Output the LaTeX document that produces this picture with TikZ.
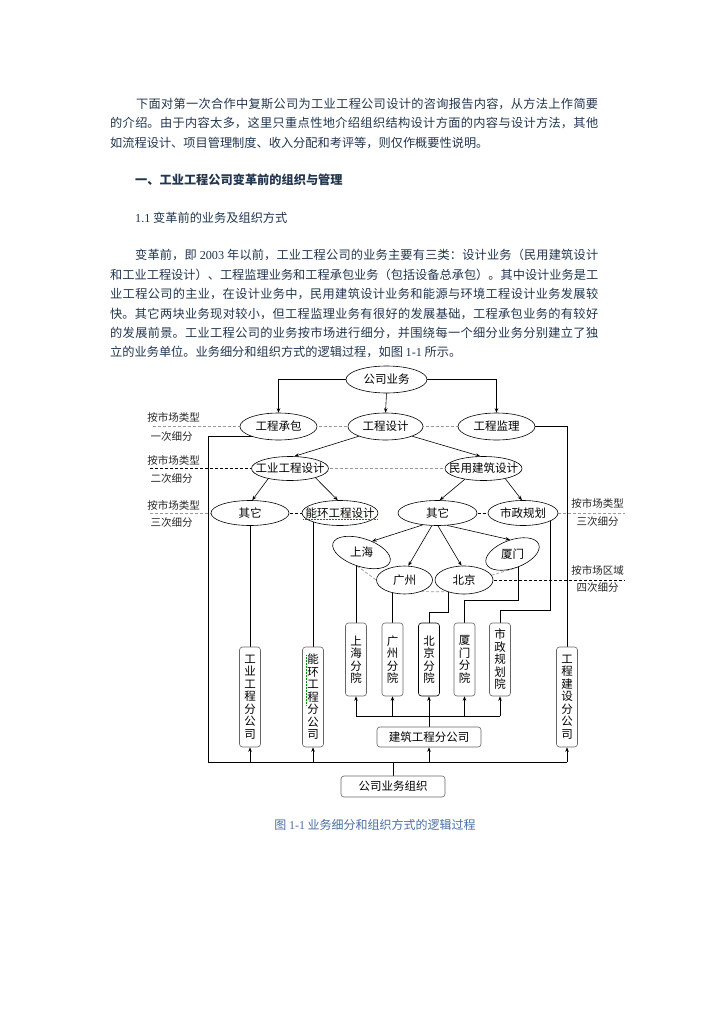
\documentclass[tikz,border=0pt]{standalone}
\usepackage{fontspec}
\usepackage{graphicx}
\setmainfont{Noto Sans CJK SC}
\newfontfamily\lat{Liberation Serif}
\usetikzlibrary{shapes.geometric,arrows.meta}
\XeTeXlinebreaklocale "zh"
\XeTeXlinebreakskip=0pt plus 1pt
\definecolor{bodyc}{HTML}{22364F}
\definecolor{capc}{HTML}{4A6FA5}
\newcommand\zbox[1]{\makebox[0pt]{#1}}
\pgfdeclarelayer{bg}
\pgfdeclarelayer{paper}
\pgfsetlayers{paper,bg,main}
\tikzset{
 ell/.style={ellipse, draw=black, line width=0.6pt, fill=white, inner sep=0pt, font=\fontsize{11.5}{12}\selectfont},
 vbox/.style={rectangle, rounded corners=3pt, draw=black!60, line width=0.6pt, fill=white, inner sep=1pt, minimum width=21pt, align=center, font=\fontsize{11.5}{12.5}\selectfont},
 hbox/.style={rectangle, rounded corners=3pt, draw=black!60, line width=0.6pt, fill=white, minimum width=104pt, minimum height=20pt, inner sep=1pt, font=\fontsize{11.5}{12}\selectfont},
 lbl/.style={font=\fontsize{10.5}{12}\selectfont, text=black!85, inner sep=0pt},
 conn/.style={line width=0.6pt, draw=black},
 thk/.style={line width=0.9pt, draw=black},
 arr/.style={-{Stealth[length=4.5pt,width=3.5pt]}},
 gdash/.style={line width=0.7pt, draw=black!40, dash pattern=on 3pt off 2pt},
 kdash/.style={line width=0.7pt, draw=black, dash pattern=on 3pt off 2pt},
 para/.style={anchor=base west, inner sep=0pt, text=bodyc, font=\fontsize{12.2}{14}\selectfont},
}
\begin{document}
\begin{tikzpicture}[x=1pt,y=-1pt]
\begin{pgfonlayer}{paper}
\fill[white] (0,0) rectangle (724,1024);
\end{pgfonlayer}
\useasboundingbox (0,0) rectangle (724,1024);

% ---- text ----
\node[para] (t1) at (136,108.6) {\parbox[b]{462pt}{\parfillskip=0pt 下面对第一次合作中复斯公司为工业工程公司设计的咨询报告内容，从方法上作简要}};
\node[para] (t2) at (110,127.9) {\parbox[b]{488pt}{\parfillskip=0pt 的介绍。由于内容太多，这里只重点性地介绍组织结构设计方面的内容与设计方法，其他}};
\node[para] (t3) at (110,147.3) {如流程设计、项目管理制度、收入分配和考评等，则仅作概要性说明。};
\node[para, font=\fontsize{12.2}{14}\selectfont\bfseries] (t4) at (135,184.6) {一、工业工程公司变革前的组织与管理};
\node[para] (t5) at (135,222.6) {{\lat 1.1} 变革前的业务及组织方式};
\node[para] (t6) at (135,259.6) {\parbox[b]{463pt}{\parfillskip=0pt 变革前，即 {\lat 2003} 年以前，工业工程公司的业务主要有三类：设计业务（民用建筑设计}};
\node[para] (t7) at (110,279.6) {\parbox[b]{488pt}{\parfillskip=0pt 和工业工程设计）、工程监理业务和工程承包业务（包括设备总承包）。其中设计业务是工}};
\node[para] (t8) at (110,298.8) {\parbox[b]{488pt}{\parfillskip=0pt 业工程公司的主业，在设计业务中，民用建筑设计业务和能源与环境工程设计业务发展较}};
\node[para] (t9) at (110,318.0) {\parbox[b]{488pt}{\parfillskip=0pt 快。其它两块业务现对较小，但工程监理业务有很好的发展基础，工程承包业务的有较好}};
\node[para] (t10) at (110,337.3) {\parbox[b]{488pt}{\parfillskip=0pt 的发展前景。工业工程公司的业务按市场进行细分，并围绕每一个细分业务分别建立了独}};
\node[para] (t11) at (110,356.6) {立的业务单位。业务细分和组织方式的逻辑过程，如图 {\lat 1-1} 所示。};
\node[anchor=base, inner sep=0pt, text=capc, font=\fontsize{12}{14}\selectfont] (cap) at (375,829.5) {图 {\lat 1-1} 业务细分和组织方式的逻辑过程};

% ---- ellipses ----
\node[ell, minimum width=81pt, minimum height=27pt] (gsyw) at (386.5,379.5) {\zbox{公司业务}};
\node[ell, minimum width=77pt, minimum height=27pt] (gccb) at (278.5,426.5) {\zbox{工程承包}};
\node[ell, minimum width=75pt, minimum height=27pt] (gcsj) at (385.5,426.5) {\zbox{工程设计}};
\node[ell, minimum width=77pt, minimum height=27pt] (gcjl) at (496.5,426.5) {\zbox{工程监理}};
\node[ell, minimum width=77pt, minimum height=24pt] (gysj) at (290,468.5) {\zbox{工业工程设计}};
\node[ell, minimum width=77pt, minimum height=24pt] (mysj) at (483.5,468.5) {\zbox{民用建筑设计}};
\node[ell, minimum width=78pt, minimum height=25pt] (qt1) at (250,513) {\zbox{其它}};
\node[ell, minimum width=76pt, minimum height=25pt] (nhsj) at (340,513) {\zbox{能环工程设计}};
\node[ell, minimum width=79pt, minimum height=25pt] (qt2) at (437.5,513) {\zbox{其它}};
\node[ell, minimum width=70pt, minimum height=25pt] (szgh) at (523,513) {\zbox{市政规划}};
\node[ell, rotate=-18, minimum width=60pt, minimum height=28pt] (sh) at (361.5,552.5) {\rotatebox{18}{\zbox{上海}}};
\node[ell, rotate=20, minimum width=56pt, minimum height=28pt] (xm) at (512.5,554) {\rotatebox{-20}{\zbox{厦门}}};
\node[ell, minimum width=56pt, minimum height=28pt] (gz) at (404.5,580) {\zbox{广州}};
\node[ell, minimum width=58pt, minimum height=28pt] (bj) at (464,580) {\zbox{北京}};

% ---- boxes ----
\node[vbox, minimum height=100pt] (gygs) at (250,697) {工\\业\\工\\程\\分\\公\\司};
\node[vbox, minimum height=100pt] (nhgs) at (313,697) {能\\环\\工\\程\\分\\公\\司};
\node[vbox, minimum height=100pt] (jsgs) at (567,697) {工\\程\\建\\设\\分\\公\\司};
\node[vbox, minimum height=73pt] (shy) at (356,659.5) {上\\海\\分\\院};
\node[vbox, minimum height=73pt] (gzy) at (392.5,659.5) {广\\州\\分\\院};
\node[vbox, minimum height=73pt, draw=black] (bjy) at (429,659.5) {北\\京\\分\\院};
\node[vbox, minimum height=73pt] (xmy) at (464.5,659.5) {厦\\门\\分\\院};
\node[vbox, minimum height=73pt] (szy) at (500,659.5) {市\\政\\规\\划\\院};
\node[hbox] (jzgs) at (429,737) {建筑工程分公司};
\node[hbox, minimum height=21pt] (gsyz) at (393,786.5) {公司业务组织};

% ---- side labels ----
\node[lbl] (la1) at (173.5,417) {按市场类型};
\node[lbl] (lb1) at (171.5,437) {一次细分};
\node[lbl] (la2) at (173.5,460) {按市场类型};
\node[lbl] (lb2) at (171.5,478.5) {二次细分};
\node[lbl] (la3) at (173.5,505) {按市场类型};
\node[lbl] (lb3) at (171.5,523) {三次细分};
\node[lbl] (ra3) at (597.5,503) {按市场类型};
\node[lbl] (rb3) at (597.5,522) {三次细分};
\node[lbl] (ra4) at (597.5,570) {按市场区域};
\node[lbl] (rb4) at (597.5,588) {四次细分};

\coordinate (d1) at (153,426.5);
\coordinate (d2) at (150,468.5);
\coordinate (d3) at (150,513);
\coordinate (d3r) at (625,513);
\coordinate (d4r) at (625,580);
\coordinate (lk) at (208,436);
\coordinate (bl) at (208,762);
\coordinate (br) at (567,762);
\coordinate (fb) at (429,716);
\coordinate (bjk) at (448,612);
\coordinate (xmk) at (518,600);
\coordinate (szk) at (550.5,610);

% green spell-check marks
\draw[green!55!black, densely dotted, line width=0.5pt] (303,519.5) -- (377,519.5);
\draw[green!55!black, densely dotted, line width=0.5pt] (306,655) -- (306,705);

\begin{pgfonlayer}{bg}
% dashed division lines
\draw[gdash] (d1) -- (gccb.center);
\draw[gdash] (gccb.center) -- (gcsj.center);
\draw[gdash] (gcsj.center) -- (gcjl.center);
\draw[kdash] (d2) -- (gysj.center);
\draw[gdash] (gysj.center) -- (mysj.center);
\draw[gdash] (d3) -- (qt1.center);
\draw[kdash] (qt1.center) -- (nhsj.center);
\draw[kdash] (qt2.center) -- (szgh.center);
\draw[gdash] (szgh.center) -- (d3r);
\draw[gdash] (sh.south) -- (gz.west);
\draw[gdash] (gz.-35) -- (bj.-145);
\draw[gdash] (bj.10) -- (xm.south);
\draw[kdash] (bj.center) -- (d4r);

% tree arrows
\draw[conn,arr] (gsyw.west) -| (gccb.north);
\draw[conn,arr] (gsyw.east) -| (gcjl.north);
\draw[conn,arr] (gsyw.south) -- (gcsj.north);
\draw[conn,arr] (gcsj.200) -- (gysj.70);
\draw[conn,arr] (gcsj.-20) -- (mysj.105);
\draw[conn,arr] (gysj.205) -- (qt1.80);
\draw[conn,arr] (gysj.-20) -- (nhsj.100);
\draw[conn,arr] (mysj.210) -- (qt2.80);
\draw[conn,arr] (mysj.-25) -- (szgh.95);
\draw[conn,arr] (qt2.219) -- (sh.65);
\draw[conn,arr] (qt2.246) -- (gz.75);
\draw[conn,arr] (qt2.272) -- (bj.100);
\draw[conn,arr] (qt2.-52) -- (xm.80);

% links to organisation units
\draw[conn] (qt1.center) -- (gygs.north);
\draw[conn] (nhgs.north |- nhsj.center) -- (nhgs.north);
\draw[conn] (shy.north |- sh.center) -- (shy.north);
\draw[conn] (gzy.north |- gz.center) -- (gzy.north);
\draw[conn] (bjk |- bj.center) -- (bjk) -| (bjy.north);
\draw[conn] (xmk |- xm.center) -- (xmk) -| (xmy.north);
\draw[conn] (szk |- szgh.center) -- (szk) -| (szy.north);
\draw[conn] (gcjl.center) -| (jsgs.north);

% bottom organisation
\draw[thk] (lk -| gccb.center) -- (lk) -- (bl) -- (br);
\draw[thk] (gsyz.north) -- (gsyz.north |- bl);
\draw[conn,arr] (gygs.south |- bl) -- (gygs.south);
\draw[conn,arr] (nhgs.south |- bl) -- (nhgs.south);
\draw[conn,arr] (jzgs.south |- bl) -- (jzgs.south);
\draw[conn,arr] (br) -- (jsgs.south);
\draw[conn] (jzgs.north) -- (fb);
\draw[conn] (shy.south |- fb) -- (szy.south |- fb);
\draw[conn,arr] (fb) -- (bjy.south);
\draw[conn,arr] (shy.south |- fb) -- (shy.south);
\draw[conn,arr] (gzy.south |- fb) -- (gzy.south);
\draw[conn,arr] (xmy.south |- fb) -- (xmy.south);
\draw[conn,arr] (szy.south |- fb) -- (szy.south);
\end{pgfonlayer}
\end{tikzpicture}
\end{document}
